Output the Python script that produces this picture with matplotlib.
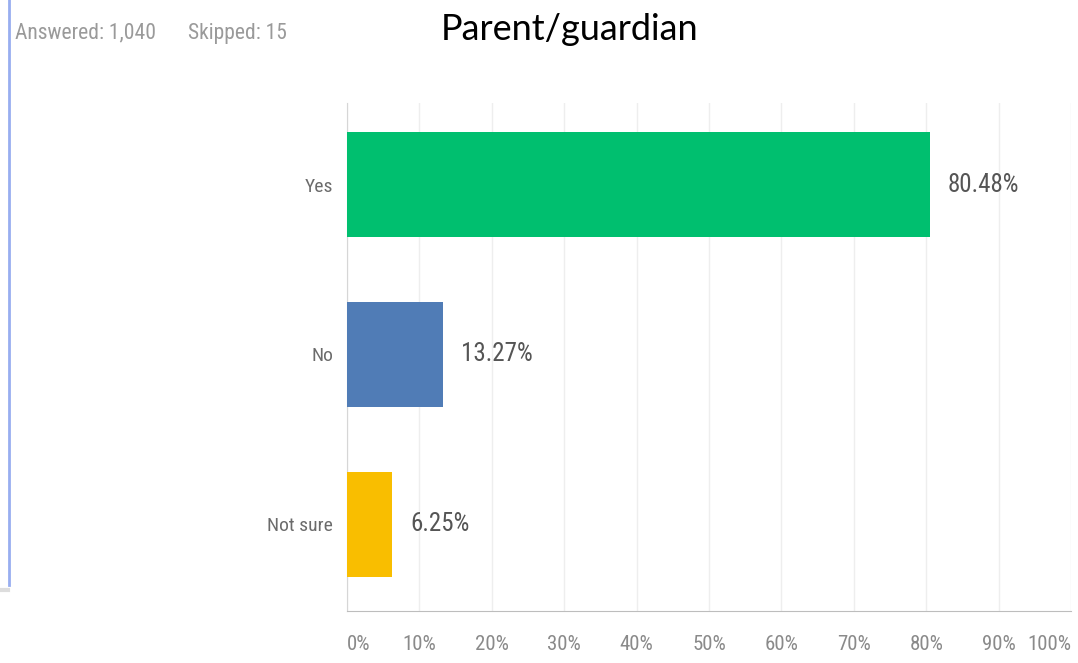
import matplotlib
matplotlib.use("Agg")
import matplotlib.pyplot as plt
from matplotlib.lines import Line2D

# survey data
categories = ["Yes", "No", "Not sure"]
percents = [80.48, 13.27, 6.25]
bar_colors = ["#00BF6F", "#507CB6", "#F9BE00"]
tick_values = [0, 10, 20, 30, 40, 50, 60, 70, 80, 90, 100]
tick_labels = ["0%", "10%", "20%", "30%", "40%", "50%", "60%", "70%", "80%", "90%", "100%"]
title = "Parent/guardian"
answered = "Answered: 1,040"
skipped = "Skipped: 15"

narrow = ["Roboto Condensed", "DejaVu Sans"]
grey = "#6b6b6b"
st = "condensed"

fig = plt.figure(figsize=(10.78, 6.63), dpi=100)
ax = fig.add_axes([347 / 1078, 52 / 663, 724 / 1078, 508 / 663])

ypos = list(range(len(categories)))
ax.barh(ypos, percents, height=0.62, color=bar_colors, zorder=3)
ax.set_ylim(2.51, -0.48)
ax.set_xlim(0, 100)

# value labels just right of each bar
for y, v in zip(ypos, percents):
    ax.annotate("%.2f%%" % v, (v, y), xytext=(13, 0), textcoords="offset points",
                va="center", ha="left", fontsize=18, color="#555555",
                family=narrow, fontstretch=st)

ax.set_yticks(ypos)
ax.set_yticklabels(categories, fontsize=14, color=grey, family=narrow, fontstretch=st)
ax.set_xticks(tick_values)
ax.set_xticklabels(tick_labels, fontsize=15, color="#8a8a8a", family=narrow, fontstretch=st)
xl = ax.get_xticklabels()
xl[0].set_horizontalalignment("left")
xl[-1].set_horizontalalignment("right")
ax.tick_params(axis="y", length=0, pad=10)
ax.tick_params(axis="x", length=0, pad=17)

ax.grid(axis="x", color="#eeeeee", linewidth=1, zorder=0)
for s in ["top", "right"]:
    ax.spines[s].set_visible(False)
ax.spines["left"].set_color("#d6d6d6")
ax.spines["bottom"].set_color("#bdbdbd")

fig.text(570 / 1078, 1 - 30 / 663, title, ha="center", va="center",
         fontsize=26, family=["Lato", "DejaVu Sans"], color="black")
fig.text(15 / 1078, 1 - 33 / 663, answered, ha="left", va="center",
         fontsize=15.5, family=narrow, fontstretch=st, color="#9a9a9a")
fig.text(188 / 1078, 1 - 33 / 663, skipped, ha="left", va="center",
         fontsize=15.5, family=narrow, fontstretch=st, color="#9a9a9a")

# screenshot border bits on the left
fig.add_artist(Line2D([9 / 1078, 9 / 1078], [1 - 585 / 663, 1], color="#98aef0", linewidth=2))
fig.add_artist(Line2D([0, 8 / 1078], [1 - 590 / 663, 1 - 590 / 663], color="#dddddd", linewidth=3))

fig.savefig("out.png", dpi=100)
